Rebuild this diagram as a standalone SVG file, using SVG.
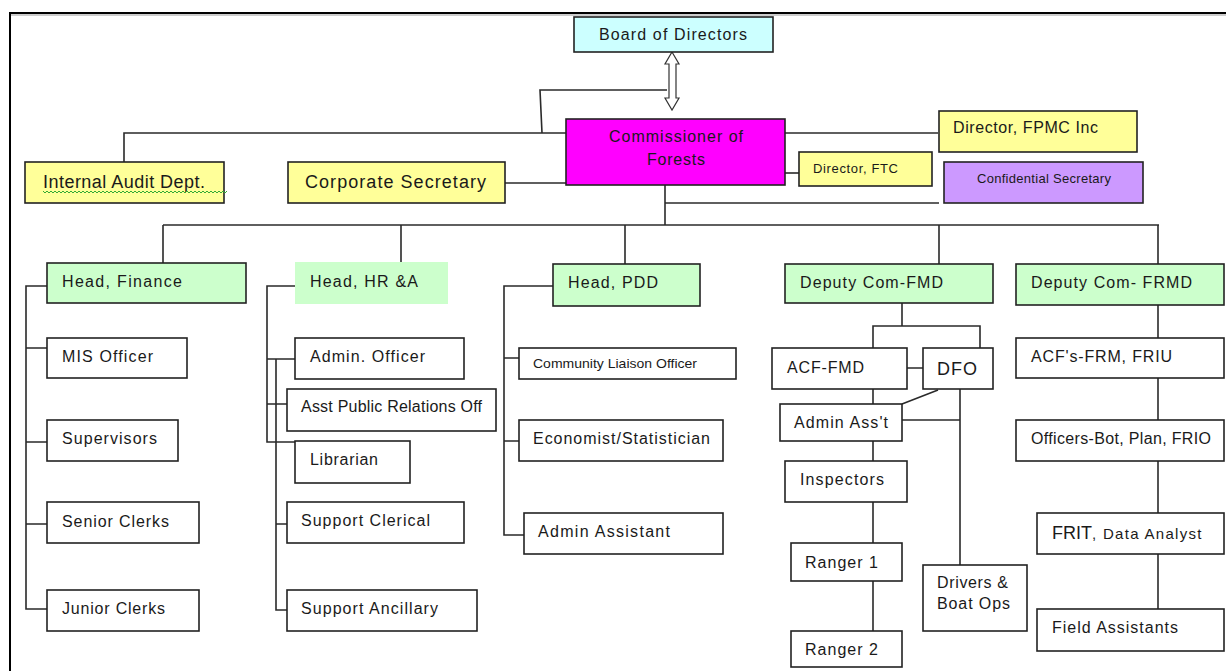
<svg xmlns="http://www.w3.org/2000/svg" width="1226" height="671" viewBox="0 0 1226 671">
<style>
.b{stroke:#222;stroke-width:1.6}
.w{fill:#ffffff}
.y{fill:#ffff99}
.g{fill:#ccffcc}
.t{font-family:"Liberation Sans",Arial,sans-serif;font-size:16px;fill:#1a1a1a}
.s{font-size:13px}
.c{fill:none;stroke:#2a2a2a;stroke-width:1.6}
</style>
<rect width="1226" height="671" fill="#ffffff"/>
<path d="M10,671 V13 H1226" fill="none" stroke="#000" stroke-width="2"/>
<path d="M11,15 H1226" fill="none" stroke="#999" stroke-width="1"/>

<g id="connectors" class="c">
<path d="M542,133 L540,90 H667"/>
<path d="M124,162 V133 H566"/>
<path d="M505,183 H566"/>
<path d="M785,133 H938"/>
<path d="M785,173 H799"/>
<path d="M665,185 V225"/>
<path d="M665,203 H939"/>
<path d="M163,225 H1159"/>
<path d="M163,225 V263 M401,225 V262 M625,225 V264 M939,225 V264"/>
<path d="M1158,225 V609"/>
<path d="M47,286 H26 V609 H47 M26,348 H47 M26,442 H47 M26,524 H47"/>
<path d="M295,286 H267 V442 H295 M267,359 H295 M267,404 H287 M276,359 V610 H287 M276,524 H287"/>
<path d="M553,286 H504 V535 H524 M504,358 H519 M504,441 H519"/>
<path d="M902,303 V326 M873,348 V326 H980 V348 M907,368 H923 M873,389 V404 M938,390 L902,404 M902,420 H960 M960,389 V565 M873,441 V461 M873,502 V543 M873,581 V631"/>
<path d="M672,52 L679,64 H676 V98 H679 L672,110 L665,98 H669 V64 H665 Z" fill="#ffffff" stroke="#333" stroke-width="1.2"/>
</g>

<g id="board"><rect class="b" x="574" y="17" width="199" height="35" fill="#ccffff"/><text class="t" x="599" y="40" textLength="148" lengthAdjust="spacing">Board of Directors</text></g>
<g id="commissioner"><rect class="b" x="566" y="119" width="219" height="66" fill="#ff00ff"/><text class="t" x="609" y="142" textLength="134" lengthAdjust="spacing">Commissioner of</text><text class="t" x="647" y="165" textLength="58" lengthAdjust="spacing">Forests</text></g>
<g id="internal-audit"><rect class="b y" x="25" y="162" width="199" height="41"/><text class="t" x="43" y="188" style="font-size:18px" textLength="162" lengthAdjust="spacing">Internal Audit Dept.</text><path d="M43,191 l2,2 l2,-2 l2,2 l2,-2 l2,2 l2,-2 l2,2 l2,-2 l2,2 l2,-2 l2,2 l2,-2 l2,2 l2,-2 l2,2 l2,-2 l2,2 l2,-2 l2,2 l2,-2 l2,2 l2,-2 l2,2 l2,-2 l2,2 l2,-2 l2,2 l2,-2 l2,2 l2,-2 l2,2 l2,-2 l2,2 l2,-2 l2,2 l2,-2 l2,2 l2,-2 l2,2 l2,-2 l2,2 l2,-2 l2,2 l2,-2 l2,2 l2,-2 l2,2 l2,-2 l2,2 l2,-2 l2,2 l2,-2 l2,2 l2,-2 l2,2 l2,-2 l2,2 l2,-2 l2,2 l2,-2 l2,2 l2,-2 l2,2 l2,-2 l2,2 l2,-2 l2,2 l2,-2 l2,2 l2,-2 l2,2 l2,-2 l2,2 l2,-2 l2,2 l2,-2 l2,2 l2,-2 l2,2 l2,-2 l2,2 l2,-2 l2,2 l2,-2 l2,2 l2,-2 l2,2 l2,-2 l2,2 l2,-2 l2,2 l2,-2" fill="none" stroke="#33aa33" stroke-width="1"/></g>
<g id="corporate-secretary"><rect class="b y" x="288" y="162" width="217" height="41"/><text class="t" x="305" y="188" style="font-size:18px" textLength="181" lengthAdjust="spacing">Corporate Secretary</text></g>
<g id="director-fpmc"><rect class="b y" x="939" y="111" width="198" height="41"/><text class="t" x="953" y="133" textLength="145" lengthAdjust="spacing">Director, FPMC Inc</text></g>
<g id="director-ftc"><rect class="b y" x="799" y="152" width="133" height="34"/><text class="t s" x="813" y="173" textLength="85" lengthAdjust="spacing">Director, FTC</text></g>
<g id="confidential-secretary"><rect class="b" x="944" y="162" width="199" height="41" fill="#cc99ff"/><text class="t s" x="977" y="183" textLength="134" lengthAdjust="spacing">Confidential Secretary</text></g>

<g id="head-finance"><rect class="b g" x="47" y="263" width="199" height="40"/><text class="t" x="62" y="287" textLength="120" lengthAdjust="spacing">Head, Finance</text></g>
<g id="mis-officer"><rect class="b w" x="47" y="338" width="140" height="40"/><text class="t" x="62" y="362" textLength="91" lengthAdjust="spacing">MIS Officer</text></g>
<g id="supervisors"><rect class="b w" x="47" y="420" width="131" height="41"/><text class="t" x="62" y="444" textLength="95" lengthAdjust="spacing">Supervisors</text></g>
<g id="senior-clerks"><rect class="b w" x="47" y="502" width="152" height="41"/><text class="t" x="62" y="527" textLength="107" lengthAdjust="spacing">Senior Clerks</text></g>
<g id="junior-clerks"><rect class="b w" x="47" y="590" width="152" height="41"/><text class="t" x="62" y="614" textLength="103" lengthAdjust="spacing">Junior Clerks</text></g>

<g id="head-hr"><rect x="295" y="262" width="153" height="42" fill="#ccffcc"/><text class="t" x="310" y="287" textLength="108" lengthAdjust="spacing">Head, HR &amp;A</text></g>
<g id="admin-officer"><rect class="b w" x="295" y="338" width="169" height="41"/><text class="t" x="310" y="362" textLength="115" lengthAdjust="spacing">Admin. Officer</text></g>
<g id="asst-pr"><rect class="b w" x="287" y="389" width="209" height="42"/><text class="t" x="301" y="412" textLength="181" lengthAdjust="spacing">Asst Public Relations Off</text></g>
<g id="librarian"><rect class="b w" x="295" y="441" width="115" height="42"/><text class="t" x="310" y="465" textLength="68" lengthAdjust="spacing">Librarian</text></g>
<g id="support-clerical"><rect class="b w" x="287" y="502" width="177" height="41"/><text class="t" x="301" y="526" textLength="129" lengthAdjust="spacing">Support Clerical</text></g>
<g id="support-ancillary"><rect class="b w" x="287" y="590" width="190" height="41"/><text class="t" x="301" y="614" textLength="137" lengthAdjust="spacing">Support Ancillary</text></g>

<g id="head-pdd"><rect class="b g" x="553" y="264" width="147" height="42"/><text class="t" x="568" y="288" textLength="90" lengthAdjust="spacing">Head, PDD</text></g>
<g id="community-liaison"><rect class="b w" x="519" y="348" width="217" height="31"/><text class="t s" x="533" y="368" textLength="164" lengthAdjust="spacingAndGlyphs">Community Liaison Officer</text></g>
<g id="economist"><rect class="b w" x="519" y="420" width="204" height="41"/><text class="t" x="533" y="444" textLength="177" lengthAdjust="spacing">Economist/Statistician</text></g>
<g id="admin-assistant"><rect class="b w" x="524" y="513" width="199" height="41"/><text class="t" x="538" y="537" textLength="132" lengthAdjust="spacing">Admin Assistant</text></g>

<g id="deputy-fmd"><rect class="b g" x="785" y="264" width="208" height="39"/><text class="t" x="800" y="288" textLength="143" lengthAdjust="spacing">Deputy Com-FMD</text></g>
<g id="acf-fmd"><rect class="b w" x="772" y="348" width="135" height="41"/><text class="t" x="787" y="373" textLength="77" lengthAdjust="spacing">ACF-FMD</text></g>
<g id="dfo"><rect class="b w" x="923" y="348" width="70" height="41"/><text class="t" x="937" y="375" style="font-size:18px" textLength="40" lengthAdjust="spacing">DFO</text></g>
<g id="admin-asst-fmd"><rect class="b w" x="780" y="404" width="122" height="37"/><text class="t" x="794" y="428" textLength="94" lengthAdjust="spacing">Admin Ass't</text></g>
<g id="inspectors"><rect class="b w" x="785" y="461" width="122" height="41"/><text class="t" x="800" y="485" textLength="84" lengthAdjust="spacing">Inspectors</text></g>
<g id="ranger-1"><rect class="b w" x="791" y="543" width="111" height="38"/><text class="t" x="805" y="568" textLength="73" lengthAdjust="spacing">Ranger 1</text></g>
<g id="ranger-2"><rect class="b w" x="791" y="631" width="111" height="36"/><text class="t" x="805" y="655" textLength="73" lengthAdjust="spacing">Ranger 2</text></g>
<g id="drivers"><rect class="b w" x="923" y="565" width="104" height="66"/><text class="t" x="937" y="588" textLength="71" lengthAdjust="spacing">Drivers &amp;</text><text class="t" x="937" y="609" textLength="73" lengthAdjust="spacing">Boat Ops</text></g>

<g id="deputy-frmd"><rect class="b g" x="1016" y="264" width="208" height="41"/><text class="t" x="1031" y="288" textLength="161" lengthAdjust="spacing">Deputy Com- FRMD</text></g>
<g id="acf-frm"><rect class="b w" x="1016" y="338" width="208" height="40"/><text class="t" x="1031" y="362" textLength="141" lengthAdjust="spacing">ACF's-FRM, FRIU</text></g>
<g id="officers-bot"><rect class="b w" x="1016" y="420" width="208" height="41"/><text class="t" x="1031" y="444" textLength="180" lengthAdjust="spacing">Officers-Bot, Plan, FRIO</text></g>
<g id="frit"><rect class="b w" x="1037" y="513" width="187" height="41"/><text class="t" x="1052" y="539"><tspan style="font-size:18px">FRIT</tspan><tspan style="font-size:15px" letter-spacing="1.3">, Data Analyst</tspan></text></g>
<g id="field-assistants"><rect class="b w" x="1037" y="609" width="187" height="42"/><text class="t" x="1052" y="633" textLength="126" lengthAdjust="spacing">Field Assistants</text></g>
</svg>
